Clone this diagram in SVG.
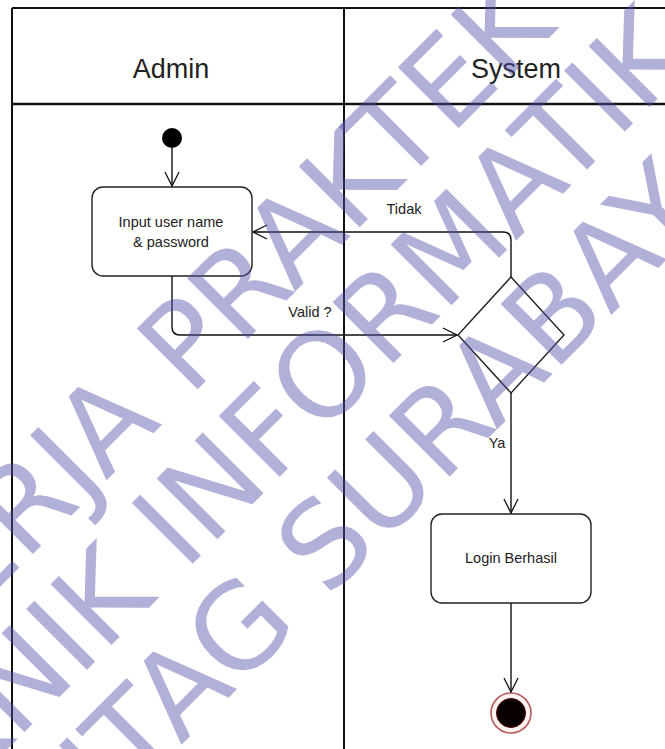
<svg xmlns="http://www.w3.org/2000/svg" width="665" height="749" viewBox="0 0 665 749">
<defs>
<style>
.frame{stroke:#111;stroke-width:2;fill:none}
.box{fill:#fff;stroke:#222;stroke-width:1.4}
.edge{fill:none;stroke:#111;stroke-width:1.4}
.t{font-family:"Liberation Sans",Arial,sans-serif;fill:#222;text-anchor:middle}
.hd{font-size:27px}
.lb{font-size:14.5px}
.wm{font-family:"DejaVu Sans",sans-serif;font-size:118px;fill:#5050aa;fill-opacity:0.45}
</style>
<marker id="arr" viewBox="0 0 16 16" refX="15" refY="8" markerWidth="16" markerHeight="16" markerUnits="userSpaceOnUse" orient="auto">
<path d="M1,1 L15,8 L1,15" fill="none" stroke="#111" stroke-width="1.3"/>
</marker>
</defs>
<rect width="665" height="749" fill="#fff"/>
<g id="lanes">
<line class="frame" x1="12" y1="8" x2="665" y2="8"/>
<line class="frame" x1="12" y1="104" x2="665" y2="104" style="stroke-width:2.6"/>
<line class="frame" x1="12" y1="8" x2="12" y2="749"/>
<line class="frame" x1="344" y1="8" x2="344" y2="749"/>
<text class="t hd" x="171" y="78">Admin</text>
<text class="t hd" x="516" y="78">System</text>
</g>
<g id="start"><circle cx="172" cy="138" r="10" fill="#000"/></g>
<g id="input">
<rect class="box" x="92" y="187" width="160" height="89" rx="11"/>
<text class="t lb" x="171" y="227">Input user name</text>
<text class="t lb" x="171" y="247">&amp; password</text>
</g>
<g id="decision"><polygon class="box" points="511,277 564,335 511,393 458,335"/></g>
<g id="login">
<rect class="box" x="431" y="514" width="160" height="89" rx="11"/>
<text class="t lb" x="511" y="563">Login Berhasil</text>
</g>
<g id="end">
<circle cx="511" cy="713" r="20" fill="#fff2f2" stroke="#b45a5a" stroke-width="1.6"/>
<circle cx="511" cy="713" r="14.5" fill="#080000" stroke="#500" stroke-width="1"/>
</g>
<g id="connectors">
<path class="edge" d="M172,148 V186" marker-end="url(#arr)"/>
<path class="edge" d="M172,276 V327 Q172,335 180,335 H457" marker-end="url(#arr)"/>
<text class="t lb" x="310" y="317">Valid ?</text>
<path class="edge" d="M511,277 V240 Q511,232 503,232 H253" marker-end="url(#arr)"/>
<text class="t lb" x="404" y="214">Tidak</text>
<path class="edge" d="M511,393 V513" marker-end="url(#arr)"/>
<text class="t lb" x="497" y="448">Ya</text>
<path class="edge" d="M511,603 V692" marker-end="url(#arr)"/>
</g>
<g id="watermark" transform="rotate(-45)">
<text class="wm" x="-532" y="415">KERJA PRAKTEK</text>
<text class="wm" x="-736" y="535">TEKNIK INFORMATIKA</text>
<text class="wm" x="-637" y="655">UNTAG SURABAYA</text>
</g>
</svg>
